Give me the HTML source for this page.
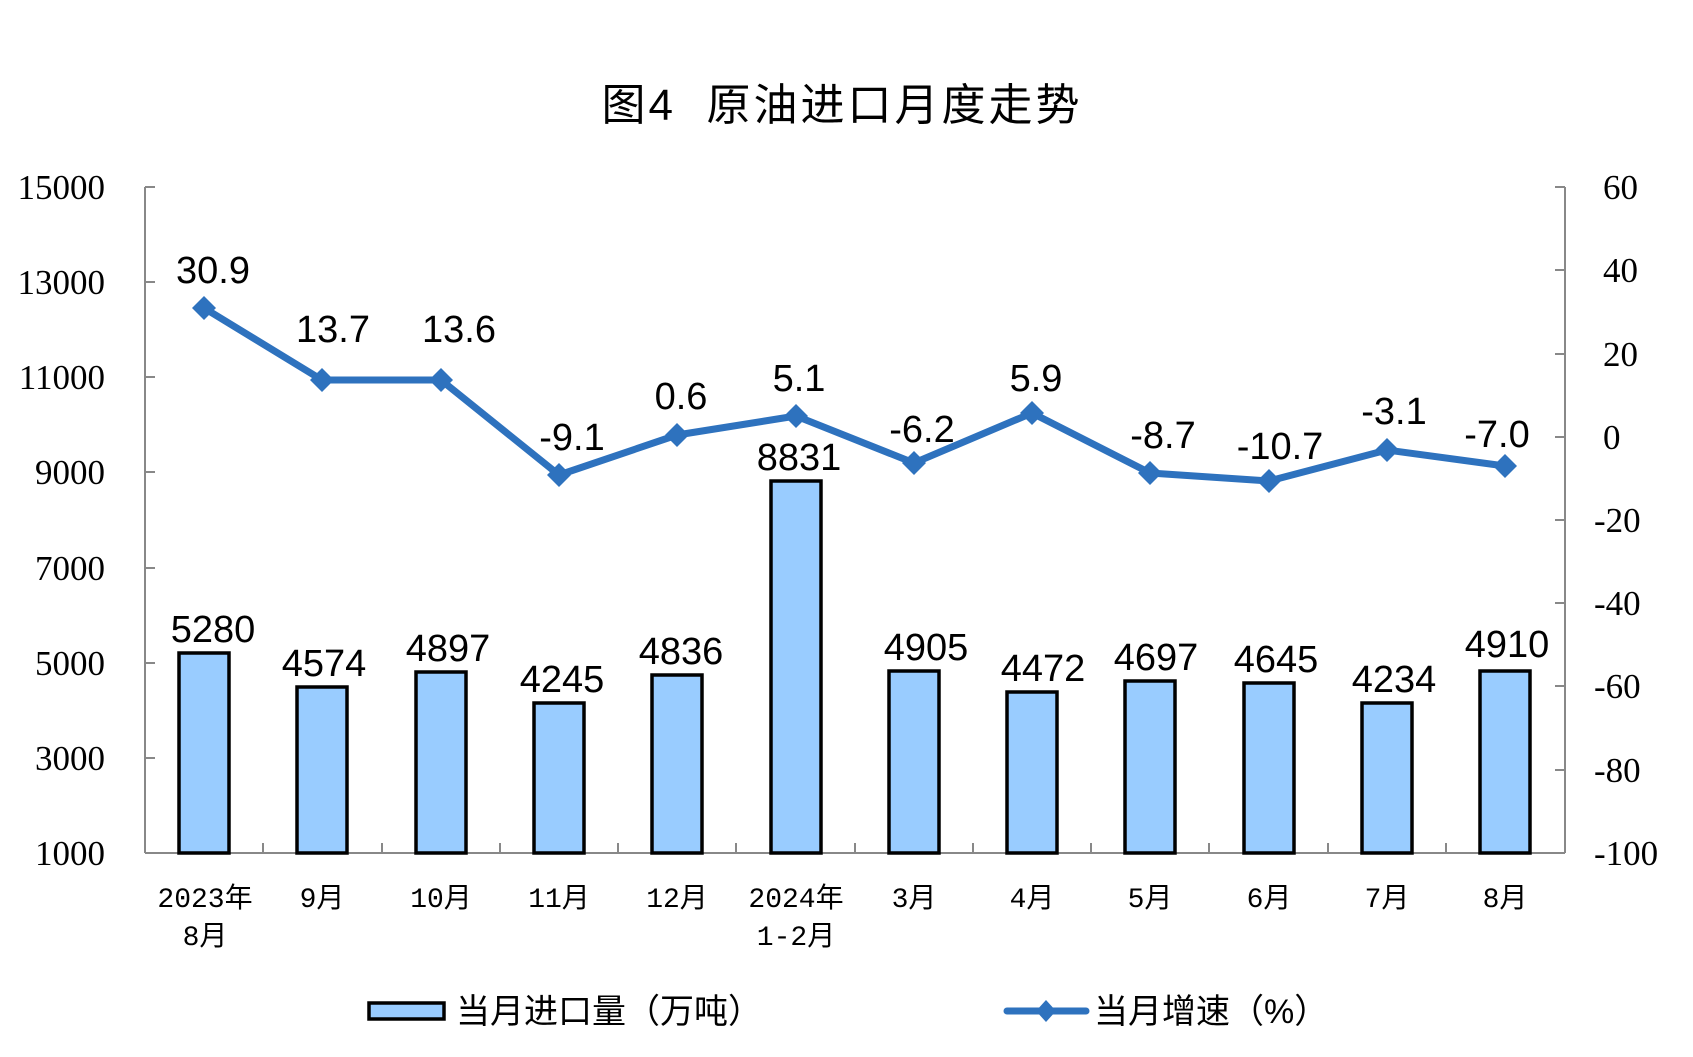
<!DOCTYPE html>
<html><head><meta charset="utf-8"><style>
html,body{margin:0;padding:0;background:#fff;}
svg{display:block;}
</style></head><body>
<svg width="1693" height="1057" viewBox="0 0 1693 1057" xmlns="http://www.w3.org/2000/svg">
<rect width="1693" height="1057" fill="#fff"/>
<text x="842" y="120" text-anchor="middle" font-family="'Liberation Sans','Noto Sans CJK SC',sans-serif" font-size="44" letter-spacing="3" fill="#000">图4&#160;&#160;原油进口月度走势</text>
<g stroke="#888" stroke-width="2" fill="none">
<line x1="145" y1="187" x2="145" y2="853"/>
<line x1="1565" y1="187" x2="1565" y2="853"/>
<line x1="145" y1="853" x2="1565" y2="853"/>
<path d="M145 187h10M145 282h10M145 377h10M145 472h10M145 568h10M145 663h10M145 758h10"/>
<path d="M1565 187h-10M1565 270h-10M1565 354h-10M1565 437h-10M1565 520h-10M1565 603h-10M1565 686h-10M1565 770h-10"/>
<path d="M263 853v-10M382 853v-10M500 853v-10M618 853v-10M736 853v-10M855 853v-10M973 853v-10M1091 853v-10M1209 853v-10M1328 853v-10M1446 853v-10"/>
</g>
<g font-family="'Liberation Serif',serif" font-size="35" fill="#000" text-anchor="end">
<text x="105" y="199">15000</text><text x="105" y="294">13000</text><text x="105" y="389">11000</text>
<text x="105" y="484">9000</text><text x="105" y="580">7000</text><text x="105" y="675">5000</text>
<text x="105" y="770">3000</text><text x="105" y="865">1000</text>
</g>
<g font-family="'Liberation Serif',serif" font-size="35" fill="#000" text-anchor="start">
<text x="1603" y="199">60</text><text x="1603" y="282">40</text><text x="1603" y="366">20</text>
<text x="1603" y="449">0</text><text x="1594" y="532">-20</text><text x="1594" y="615">-40</text>
<text x="1594" y="698">-60</text><text x="1594" y="782">-80</text><text x="1594" y="865">-100</text>
</g>
<g fill="#99CCFF" stroke="#000" stroke-width="3.5">
<rect x="179" y="653" width="50" height="200"/>
<rect x="297" y="687" width="50" height="166"/>
<rect x="416" y="672" width="50" height="181"/>
<rect x="534" y="703" width="50" height="150"/>
<rect x="652" y="675" width="50" height="178"/>
<rect x="771" y="481" width="50" height="372"/>
<rect x="889" y="671" width="50" height="182"/>
<rect x="1007" y="692" width="50" height="161"/>
<rect x="1125" y="681" width="50" height="172"/>
<rect x="1244" y="683" width="50" height="170"/>
<rect x="1362" y="703" width="50" height="150"/>
<rect x="1480" y="671" width="50" height="182"/>
</g>
<g font-family="'Liberation Sans',sans-serif" font-size="38" fill="#000" text-anchor="middle">
<text x="213" y="642">5280</text><text x="324" y="676">4574</text><text x="448" y="661">4897</text>
<text x="562" y="692">4245</text><text x="681" y="664">4836</text><text x="799" y="470">8831</text>
<text x="926" y="660">4905</text><text x="1043" y="681">4472</text><text x="1156" y="670">4697</text>
<text x="1276" y="672">4645</text><text x="1394" y="692">4234</text><text x="1507" y="657">4910</text>
</g>
<polyline fill="none" stroke="#2E72BE" stroke-width="7" stroke-linejoin="round" points="204,308 322,380 441,380 559,475 677,435 796,416 914,463 1032,413 1150,473 1269,481 1387,450 1505,466"/>
<g fill="#2E72BE">
<path d="M204 296l12 12-12 12-12-12z"/><path d="M322 368l12 12-12 12-12-12z"/><path d="M441 368l12 12-12 12-12-12z"/>
<path d="M559 463l12 12-12 12-12-12z"/><path d="M677 423l12 12-12 12-12-12z"/><path d="M796 404l12 12-12 12-12-12z"/>
<path d="M914 451l12 12-12 12-12-12z"/><path d="M1032 401l12 12-12 12-12-12z"/><path d="M1150 461l12 12-12 12-12-12z"/>
<path d="M1269 469l12 12-12 12-12-12z"/><path d="M1387 438l12 12-12 12-12-12z"/><path d="M1505 454l12 12-12 12-12-12z"/>
</g>
<g font-family="'Liberation Sans',sans-serif" font-size="38" fill="#000" text-anchor="middle">
<text x="213" y="283">30.9</text><text x="333" y="342">13.7</text><text x="459" y="342">13.6</text>
<text x="572" y="450">-9.1</text><text x="681" y="409">0.6</text><text x="799" y="391">5.1</text>
<text x="922" y="442">-6.2</text><text x="1036" y="391">5.9</text><text x="1163" y="448">-8.7</text>
<text x="1280" y="459">-10.7</text><text x="1394" y="424">-3.1</text><text x="1497" y="447">-7.0</text>
</g>
<g font-family="'Liberation Mono','Noto Sans CJK SC',monospace" font-size="28" fill="#000" text-anchor="middle">
<text x="205" y="907">2023年</text><text x="205" y="945">8月</text>
<text x="322" y="907">9月</text><text x="441" y="907">10月</text><text x="559" y="907">11月</text>
<text x="677" y="907">12月</text><text x="796" y="907">2024年</text><text x="796" y="945">1-2月</text>
<text x="914" y="907">3月</text><text x="1032" y="907">4月</text><text x="1150" y="907">5月</text>
<text x="1269" y="907">6月</text><text x="1387" y="907">7月</text><text x="1505" y="907">8月</text>
</g>
<rect x="369" y="1003" width="75" height="16" fill="#99CCFF" stroke="#000" stroke-width="3.5"/>
<text x="456" y="1023" font-family="'Liberation Sans','Noto Sans CJK SC',sans-serif" font-size="34" fill="#000">当月进口量（万吨）</text>
<line x1="1007" y1="1011" x2="1086" y2="1011" stroke="#2E72BE" stroke-width="7" stroke-linecap="round"/>
<path d="M1046 1000l10 11-10 11-10-11z" fill="#2E72BE"/>
<text x="1094" y="1023" font-family="'Liberation Sans','Noto Sans CJK SC',sans-serif" font-size="34" fill="#000">当月增速（%）</text>
</svg>
</body></html>
